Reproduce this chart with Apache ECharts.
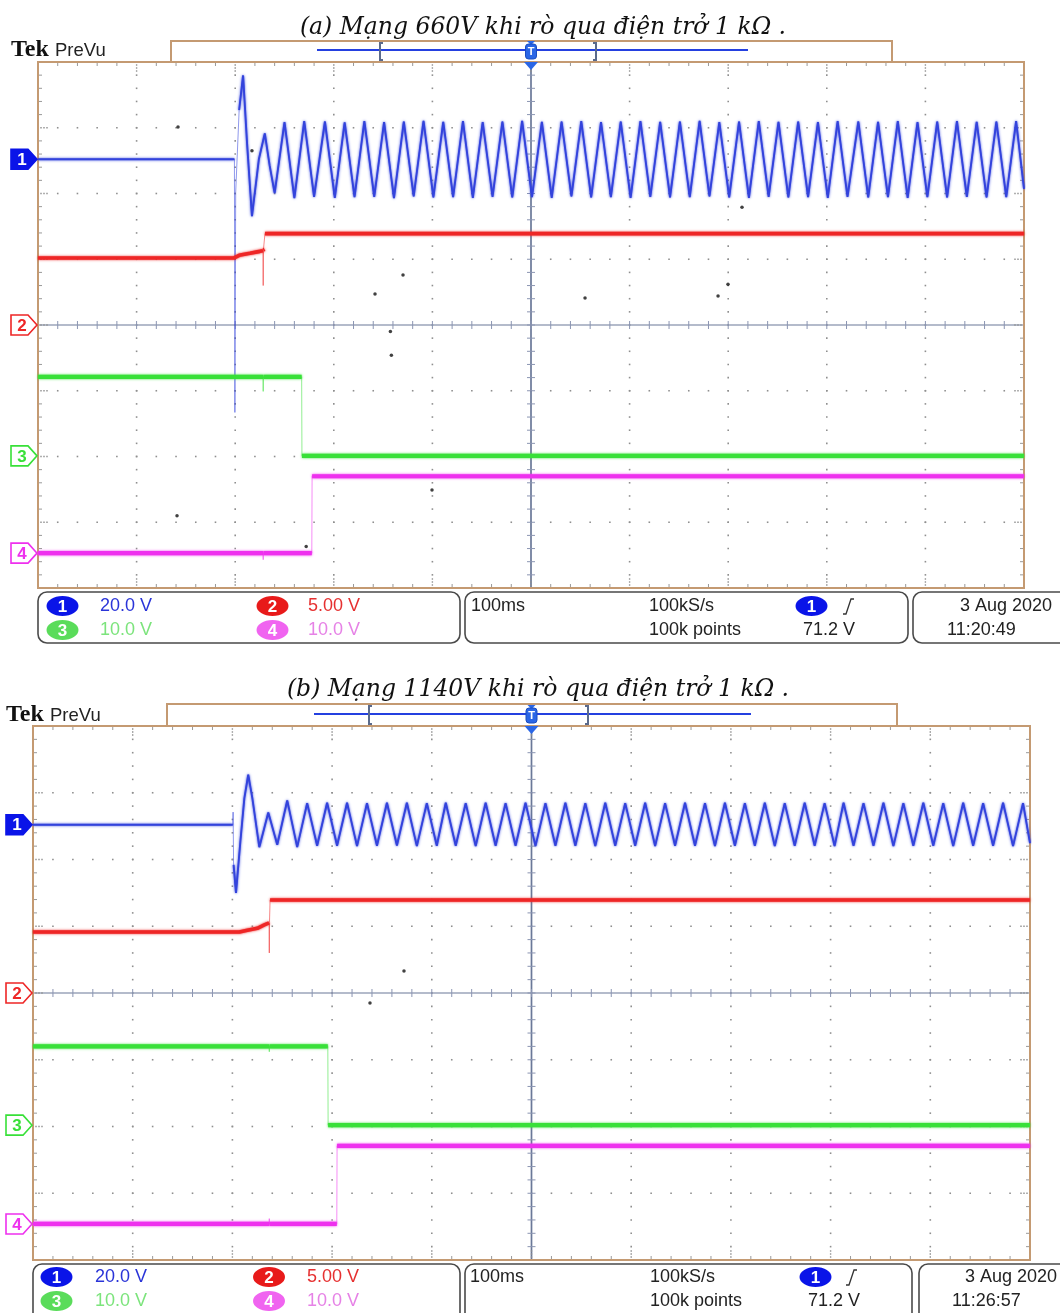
<!DOCTYPE html>
<html><head><meta charset="utf-8">
<script src="https://cdn.jsdelivr.net/npm/echarts@6.0.0/dist/echarts.min.js"></script>
<style>html,body{margin:0;padding:0;background:#fff}#c{width:1060px;height:1313px}</style>
</head><body><div id="c"></div>
<script>
// ================= DATA =================
// time axis (ms), 100 ms/div, trigger at 0
const timeRange = [-500, 500];
const timeStep = 100;
const divRange = [-4, 4];
// channel settings: volts per division, ground marker position (div from centre)
const voltsPerDiv = [20, 5, 10, 10];
const groundA = [2.52, 0, -1.99, -3.47];
const groundB = [2.52, 0, -1.98, -3.46];
const chNames = ['CH1', 'CH2', 'CH3', 'CH4'];

// ---- panel (a): 660 V network, leak via 1 kOhm ---- [time ms, volts]
const ch1A = [[-500,0],[-300.8,0],[-300.3,-77],[-299.5,-10],[-296,15],[-292,25.5],[-288,5],[-283,-17.3],[-276,0],[-270,7.9],[-265,-2],[-260,-10.3],
[-250,11.3],[-240,-11.8],[-230,11.6],[-220,-11.4],[-209,11.5],[-199,-11.7],[-189,11.2],[-179,-11.5],[-169,11.6],[-159,-11.4],[-149,11.3],[-139,-11.8],[-129,11.5],[-119,-11.3],[-109,11.7],[-99,-11.6],[-89,11.4],[-79,-11.5],[-69,11.6],[-59,-11.7],[-49,11.3],[-39,-11.4],[-29,11.5],[-19,-11.6],[-9,11.7],[1,-11.5],[11,11.4],[21,-11.7],[31,11.5],[41,-11.3],[51,11.6],[61,-11.6],[71,11.3],[81,-11.5],[91,11.5],[101,-11.7],[111,11.6],[121,-11.4],[131,11.4],[141,-11.6],[151,11.5],[161,-11.5],[171,11.7],[181,-11.3],[191,11.3],[201,-11.6],[211,11.5],[221,-11.7],[231,11.6],[241,-11.4],[251,11.4],[261,-11.6],[271,11.5],[281,-11.5],[291,11.3],[301,-11.7],[311,11.6],[321,-11.4],[332,11.5],[342,-11.6],[352,11.4],[362,-11.5],[372,11.6],[382,-11.7],[392,11.3],[402,-11.5],[412,11.5],[422,-11.6],[432,11.6],[442,-11.4],[452,11.4],[462,-11.6],[472,11.5],[482,-11.5],[492,11.6],[500,-9.0]];
const ch2A = [[-500,5.1],[-301,5.1],[-300.5,5.0],[-296,5.3],[-285,5.45],[-275,5.6],[-271.8,5.65],[-271.6,3.0],[-271.4,5.7],[-270.2,5.75],[-269.8,6.95],[500,6.95]];
const ch3A = [[-500,12.0],[-271.8,12.0],[-271.6,9.8],[-271.4,12.0],[-232.6,12.0],[-232.3,0],[500,0]];
const ch4A = [[-500,0],[-271.8,0],[-271.6,-1.0],[-271.4,0],[-222.3,0],[-222.0,11.7],[500,11.7]];
// stray display dots (time ms, div)
const dotsA = [[-358,3.01],[-129.8,0.76],[-158.2,0.47],[54.8,0.41],[189.7,0.44],[214,1.79],[199.8,0.62],[-142.6,-0.1],[-141.6,-0.46],[-100.4,-2.51],[-359,-2.9],[-228,-3.37],[-283,2.65]];

// ---- panel (b): 1140 V network, leak via 1 kOhm ----
const ch1B = [[-500,0],[-299.6,0],[-299.3,3.8],[-298.8,-12],[-296.4,-20.4],[-292,-5],[-288,8],[-284.1,15.0],[-280,8],[-273,-6.7],[-264,3.7],[-255,-6.0],
[-245,7.3],[-235,-6.7],[-225,6.5],[-215,-6.3],[-205,6.6],[-195,-6.3],[-185,6.6],[-175,-6.4],[-165,6.5],[-155,-6.3],[-145,6.6],[-135,-6.2],[-125,6.6],[-115,-6.4],[-105,6.5],[-95,-6.3],[-86,6.6],[-76,-6.3],[-66,6.5],[-56,-6.4],[-46,6.6],[-36,-6.3],[-26,6.5],[-16,-6.3],[-6,6.6],[4,-6.4],[14,6.5],[24,-6.3],[34,6.6],[44,-6.3],[54,6.5],[64,-6.4],[74,6.6],[84,-6.3],[94,6.5],[104,-6.3],[114,6.6],[124,-6.4],[134,6.5],[144,-6.3],[154,6.6],[164,-6.3],[174,6.5],[184,-6.4],[194,6.6],[204,-6.3],[214,6.5],[224,-6.3],[234,6.6],[244,-6.4],[254,6.5],[264,-6.3],[274,6.6],[284,-6.3],[294,6.5],[304,-6.4],[313,6.6],[323,-6.3],[333,6.5],[343,-6.3],[353,6.6],[363,-6.4],[373,6.5],[383,-6.3],[393,6.6],[403,-6.3],[413,6.5],[423,-6.4],[433,6.6],[443,-6.3],[453,6.5],[463,-6.3],[473,6.6],[483,-6.4],[493,6.5],[500,-5.5]];
const ch2B = [[-500,4.57],[-293,4.57],[-285,4.7],[-275,4.85],[-268,5.1],[-263.2,5.25],[-263.0,3.0],[-262.8,5.3],[-262.4,5.3],[-262.2,6.97],[500,6.97]];
const ch3B = [[-500,11.8],[-263.2,11.8],[-263.0,11.0],[-262.8,11.8],[-204.3,11.8],[-204.0,0],[500,0]];
const ch4B = [[-500,0],[-263.2,0],[-263.0,0.8],[-262.8,0],[-195.3,0],[-195.0,11.7],[500,11.7]];
const dotsB = [[-127.9,0.33],[-162,-0.15]];

// titles / readouts
const titleA = '(a) Mạng 660V khi rò qua điện trở 1 kΩ .';
const titleB = '(b) Mạng 1140V khi rò qua điện trở 1 kΩ .';
const scaleText = ['20.0 V', '5.00 V', '10.0 V', '10.0 V'];
const timebaseText = '100ms';
const rateText = '100kS/s';
const pointsText = '100k points';
const trigLevelText = '71.2 V';
const dateText = '3 Aug 2020';
const clockA = '11:20:49';
const clockB = '11:26:57';

// ================= STYLE / LAYOUT =================
const traceColor = ['#3343dc', '#ee2626', '#38e038', '#ee30ee'];
const traceWidth = [1.9, 3.6, 4.2, 4.2];
const pillFill = ['#0a14e8', '#e81a1a', '#5adc5a', '#f064f0'];
const readColor = ['#2a34d8', '#e63030', '#7ce47c', '#e682e6'];
const tan = '#c49a72';
const FONT_UI = "'Liberation Sans', Arial, sans-serif";

const chart = echarts.init(document.getElementById('c'), null, {renderer: 'canvas'});

function toDiv(arr, off, sc) { return arr.map(p => [p[0], off + p[1] / sc]); }
function withGaps(d) {
  const out = [d[0]];
  for (let i = 1; i < d.length; i++) {
    const a = d[i - 1], b = d[i];
    const slope = Math.abs(b[1] - a[1]) / Math.max(Math.abs(b[0] - a[0]), 1e-6);
    if (slope > 0.3) out.push([(a[0] + b[0]) / 2, null]);
    out.push(b);
  }
  return out;
}

function graticule(gi) {
  return {
    type: 'custom', xAxisIndex: gi, yAxisIndex: gi, z: 1, silent: true, clip: false,
    data: [[0, 0]],
    renderItem: function (params, api) {
      const ch = [];
      const P = (t, d) => api.coord([t, d]);
      const tl = P(timeRange[0], divRange[1]), br = P(timeRange[1], divRange[0]);
      const x0 = tl[0], y0 = tl[1], x1 = br[0], y1 = br[1];
      const dot = (x, y, c, s) => ch.push({type: 'rect', shape: {x: x - s / 2, y: y - s / 2, width: s, height: s}, style: {fill: c}});
      const ln = (a, b, c, d, col, w) => ch.push({type: 'line', shape: {x1: a, y1: b, x2: c, y2: d}, style: {stroke: col, lineWidth: w}});
      const dc = '#8f8f8f';
      for (let i = -4; i <= 4; i++) {
        if (i === 0) continue;
        for (let j = -19; j <= 19; j++) { const p = P(i * timeStep, j / 5); dot(p[0], p[1], dc, 1.6); }
      }
      for (let k = -3; k <= 3; k++) {
        if (k === 0) continue;
        for (let j = -24; j <= 24; j++) { const p = P(j * timeStep / 5, k); dot(p[0], p[1], dc, 1.6); }
      }
      const cc = '#6a7898';
      const cv = P(0, 0);
      ln(cv[0], y0, cv[0], y1, cc, 1.7);
      ln(x0, cv[1], x1, cv[1], cc, 1.2);
      for (let j = -19; j <= 19; j++) { const p = P(0, j / 5); ln(p[0] - 4, p[1], p[0] + 4, p[1], '#8b95b2', 1); }
      for (let j = -24; j <= 24; j++) { const p = P(j * timeStep / 5, 0); ln(p[0], p[1] - 4, p[0], p[1] + 4, '#8b95b2', 1); }
      for (let j = -24; j <= 24; j++) {
        const x = P(j * timeStep / 5, 0)[0];
        if (j % 5 === 0) { for (let q = 0; q < 3; q++) { dot(x, y0 + 3 + q * 3, dc, 1.4); dot(x, y1 - 3 - q * 3, dc, 1.4); } }
        else { ln(x, y0, x, y0 + 4, '#999', 1); ln(x, y1, x, y1 - 4, '#999', 1); }
      }
      for (let j = -19; j <= 19; j++) {
        const y = P(0, j / 5)[1];
        if (j % 5 === 0) { for (let q = 0; q < 3; q++) { dot(x0 + 3 + q * 3, y, dc, 1.4); dot(x1 - 3 - q * 3, y, dc, 1.4); } }
        else { ln(x0, y, x0 + 4, y, '#999', 1); ln(x1, y, x1 - 4, y, '#999', 1); }
      }
      ch.push({type: 'rect', shape: {x: x0, y: y0, width: x1 - x0, height: y1 - y0}, style: {fill: null, stroke: tan, lineWidth: 2}});
      return {type: 'group', children: ch};
    }
  };
}

function markers(gi, ground) {
  return {
    type: 'custom', xAxisIndex: gi, yAxisIndex: gi, z: 60, silent: true, clip: false,
    data: [[0, 0]],
    renderItem: function (params, api) {
      const ch = [];
      const gx = api.coord([timeRange[0], 0])[0];
      ground.forEach((g, i) => {
        const y = api.coord([0, g])[1];
        const pts = [[gx - 27, y - 10], [gx - 10, y - 10], [gx - 1, y], [gx - 10, y + 10], [gx - 27, y + 10]];
        const sel = i === 0;
        ch.push({type: 'polygon', shape: {points: pts}, style: {fill: sel ? pillFill[0] : '#fff', stroke: sel ? pillFill[0] : traceColor[i], lineWidth: 1.6}});
        ch.push({type: 'text', style: {text: String(i + 1), x: gx - 16, y: y + 1, font: "bold 17px " + FONT_UI, fill: sel ? '#fff' : traceColor[i], align: 'center', verticalAlign: 'middle', textAlign: 'center', textVerticalAlign: 'middle'}});
      });
      const top = api.coord([0, divRange[1]]);
      const tx = top[0], ty = top[1];
      const pc = '#2a66e6';
      ch.push({type: 'polygon', shape: {points: [[tx - 4, ty - 21], [tx + 4, ty - 21], [tx, ty - 17]]}, style: {fill: pc}});
      ch.push({type: 'rect', shape: {x: tx - 5.5, y: ty - 18, width: 11, height: 15, r: 3}, style: {fill: pc, stroke: '#1a4cc0', lineWidth: 1}});
      ch.push({type: 'text', style: {text: 'T', x: tx, y: ty - 10, font: "bold 11px " + FONT_UI, fill: '#fff', align: 'center', verticalAlign: 'middle', textAlign: 'center', textVerticalAlign: 'middle'}});
      ch.push({type: 'polygon', shape: {points: [[tx - 7, ty], [tx + 7, ty], [tx, ty + 8]]}, style: {fill: pc}});
      return {type: 'group', children: ch};
    }
  };
}

function traces(gi, data, ground) {
  const out = [];
  data.forEach((arr, i) => {
    const d = toDiv(arr, ground[i], voltsPerDiv[i]);
    out.push({type: 'line', name: chNames[i] + ' edge', xAxisIndex: gi, yAxisIndex: gi, data: d, symbol: 'none', z: 5 + i, silent: true,
      lineStyle: {color: traceColor[i], width: 1, opacity: 0.55}, animation: false});
    out.push({type: 'line', name: chNames[i], xAxisIndex: gi, yAxisIndex: gi, data: withGaps(d), symbol: 'none', z: 5 + i, silent: true, connectNulls: false,
      lineStyle: {color: traceColor[i], width: traceWidth[i], shadowBlur: 2.5, shadowColor: traceColor[i]}, animation: false});
  });
  return out;
}

function dotSeries(gi, d) {
  return {type: 'scatter', xAxisIndex: gi, yAxisIndex: gi, data: d, symbolSize: 3.5, itemStyle: {color: '#111'}, z: 12, silent: true, animation: false};
}

const G = [];
function txt(s, x, y, font, fill, align) {
  G.push({type: 'text', style: {text: s, x: x, y: y, font: font, fill: fill, align: align || 'left', verticalAlign: 'middle', textAlign: align || 'left', textVerticalAlign: 'middle'}, z: 50});
}
function header(L) {
  txt(L.title, L.titleX, L.titleY, "italic 23.5px 'DejaVu Serif', serif", '#111', 'center');
  txt('Tek', L.tekX, L.tekY, "bold 24px 'Liberation Serif', serif", '#111');
  txt('PreVu', L.tekX + 44, L.tekY + 1, "18.5px " + FONT_UI, '#222');
  G.push({type: 'rect', shape: {x: L.hx0, y: L.hy0, width: L.hx1 - L.hx0, height: L.hy1 - L.hy0}, style: {fill: '#fff', stroke: tan, lineWidth: 2}, z: 40});
  G.push({type: 'line', shape: {x1: L.bx0, y1: L.by, x2: L.bx1, y2: L.by}, style: {stroke: '#2440e0', lineWidth: 2}, z: 41});
  [L.k0, L.k1].forEach((k, i) => {
    const s = i === 0 ? 3 : -3;
    G.push({type: 'polyline', shape: {points: [[k + s, L.hy0 + 2], [k, L.hy0 + 2], [k, L.hy1 - 2], [k + s, L.hy1 - 2]]}, style: {stroke: '#5a6a8c', lineWidth: 2, fill: null}, z: 42});
  });
}
function status(L, clock) {
  L.boxes.forEach(b => G.push({type: 'rect', shape: {x: b[0], y: L.top, width: b[1] - b[0], height: L.h, r: 9}, style: {fill: '#fff', stroke: '#4a4a4a', lineWidth: 1.6}, z: 40}));
  const pill = (cx, cy, i) => {
    G.push({type: 'ellipse', shape: {cx: cx, cy: cy, rx: 16, ry: 10}, style: {fill: pillFill[i]}, z: 41});
    txt(String(i + 1), cx, cy + 1, "bold 17px " + FONT_UI, '#fff', 'center');
  };
  const f = "18px " + FONT_UI;
  pill(L.p1, L.r1, 0); txt(scaleText[0], L.v1, L.r1, f, readColor[0]);
  pill(L.p2, L.r1, 1); txt(scaleText[1], L.v2, L.r1, f, readColor[1]);
  pill(L.p1, L.r2, 2); txt(scaleText[2], L.v1, L.r2, f, readColor[2]);
  pill(L.p2, L.r2, 3); txt(scaleText[3], L.v2, L.r2, f, readColor[3]);
  txt(timebaseText, L.tb, L.r1, f, '#222');
  txt(rateText, L.rate, L.r1, f, '#222');
  txt(pointsText, L.rate, L.r2, f, '#222');
  pill(L.tp, L.r1, 0);
  G.push({type: 'polyline', shape: {points: [[L.ts, L.r1 + 8], [L.ts + 3, L.r1 + 8], [L.ts + 8, L.r1 - 7], [L.ts + 11, L.r1 - 7]]}, style: {stroke: '#333', lineWidth: 1.3, fill: null}, z: 41});
  txt(trigLevelText, L.tv, L.r2, f, '#222');
  txt(dateText, L.date, L.r1, f, '#222', 'right');
  txt(clock, L.clk, L.r2, f, '#222');
}

header({title: titleA, titleX: 543, titleY: 28, tekX: 11, tekY: 50, hx0: 171, hy0: 41, hx1: 892, hy1: 62, bx0: 317, bx1: 748, by: 50, k0: 380, k1: 596});
header({title: titleB, titleX: 538, titleY: 690, tekX: 6, tekY: 715, hx0: 167, hy0: 704, hx1: 897, hy1: 726, bx0: 314, bx1: 751, by: 714, k0: 369, k1: 588});
status({top: 592, h: 51, r1: 606, r2: 630, boxes: [[38, 460], [465, 908], [913, 1075]], p1: 62.5, p2: 272.5, v1: 100, v2: 308, tb: 471, rate: 649, tp: 811.5, ts: 843, tv: 803, date: 1052, clk: 947}, clockA);
status({top: 1264, h: 60, r1: 1277, r2: 1301, boxes: [[33, 460], [465, 912], [919, 1075]], p1: 56.5, p2: 269, v1: 95, v2: 307, tb: 470, rate: 650, tp: 815.5, ts: 846, tv: 808, date: 1057, clk: 952}, clockB);

const axX = i => ({type: 'value', gridIndex: i, min: timeRange[0], max: timeRange[1], interval: timeStep, show: false});
const axY = i => ({type: 'value', gridIndex: i, min: divRange[0], max: divRange[1], interval: 1, show: false});

chart.setOption({
  animation: false,
  backgroundColor: '#ffffff',
  grid: [{left: 38, top: 62, width: 986, height: 526}, {left: 33, top: 726, width: 997, height: 534}],
  xAxis: [axX(0), axX(1)],
  yAxis: [axY(0), axY(1)],
  graphic: {elements: G},
  series: [
    graticule(0), graticule(1),
    ...traces(0, [ch1A, ch2A, ch3A, ch4A], groundA),
    ...traces(1, [ch1B, ch2B, ch3B, ch4B], groundB),
    dotSeries(0, dotsA), dotSeries(1, dotsB),
    markers(0, groundA), markers(1, groundB)
  ]
});
</script></body></html>
